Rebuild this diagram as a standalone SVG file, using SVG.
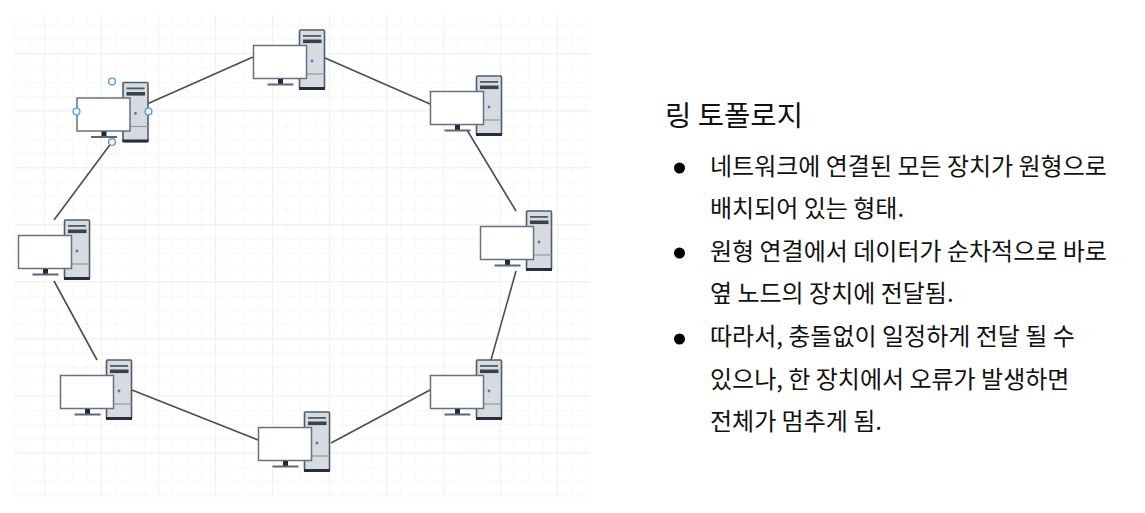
<svg xmlns="http://www.w3.org/2000/svg" width="1145" height="513" viewBox="0 0 1145 513">
<style>
text{font-family:"Noto Sans CJK KR","Noto Sans",sans-serif;fill:#111}
.b{font-size:24px}.t{font-size:28.6px}
.c line{stroke:#4d4d4d;stroke-width:1.6}
.h{fill:#fff;stroke:#4a9df0;stroke-width:1.4}
</style>
<defs>
<pattern id="minor" x="15.5" y="10.75" width="14.25" height="14.25" patternUnits="userSpaceOnUse"><path d="M0 0V14.25M0 0H14.25" fill="none" stroke="#f5f6f7" stroke-width="1.7"/></pattern>
<pattern id="major" x="44" y="53" width="57" height="57" patternUnits="userSpaceOnUse"><path d="M0 0V57M0 0H57" fill="none" stroke="#f0f1f3" stroke-width="2.4"/></pattern>
<g id="pc">
<rect x="46" y="-15.5" width="25" height="59" rx="1" fill="#d7dbe0" stroke="#4f5d6c" stroke-width="1.6"/>
<path d="M46 28.5H71" stroke="#8f99a4" stroke-width="1.2"/>
<rect x="45.5" y="41.5" width="26" height="3" fill="#232f3e"/>
<rect x="49.5" y="-10.5" width="18" height="1.8" fill="#4d5a69"/>
<rect x="49.5" y="-6" width="18.5" height="3.6" fill="#36434f"/>
<circle cx="58.5" cy="15.5" r="1.4" fill="#4a7bd0"/>
<rect x="0" y="0" width="53" height="33" fill="#fff" stroke="#65727f" stroke-width="1.5"/>
<rect x="24.5" y="33.5" width="5" height="5" fill="#1f2b38"/>
<rect x="14" y="38" width="26" height="2" fill="#5b6875"/>
</g>
</defs>
<g id="grid">
<rect x="15" y="15" width="575" height="482" fill="url(#minor)"/>
<rect x="15" y="15" width="575" height="482" fill="url(#major)"/>
</g>
<g id="connectors" class="c">
<line x1="147" y1="104" x2="253" y2="57"/>
<line x1="325" y1="58" x2="430" y2="104"/>
<line x1="467" y1="130" x2="516" y2="211"/>
<line x1="516" y1="271" x2="491" y2="360"/>
<line x1="430" y1="390" x2="331" y2="443"/>
<line x1="258" y1="440" x2="132" y2="390"/>
<line x1="97" y1="360" x2="54" y2="281"/>
<line x1="54" y1="220" x2="112" y2="142"/>
</g>
<g id="node1"><use href="#pc" x="253.5" y="45.5"/></g>
<g id="node2"><use href="#pc" x="430.5" y="91.5"/></g>
<g id="node3"><use href="#pc" x="480.5" y="226.5"/></g>
<g id="node4"><use href="#pc" x="430.5" y="375.5"/></g>
<g id="node5"><use href="#pc" x="258.5" y="427.5"/></g>
<g id="node6"><use href="#pc" x="60.5" y="375.5"/></g>
<g id="node7"><use href="#pc" x="18.5" y="235.5"/></g>
<g id="node8"><use href="#pc" x="77" y="98"/>
<circle class="h" cx="112" cy="81.5" r="3.4"/><circle class="h" cx="76.5" cy="111.5" r="3.4"/><circle class="h" cx="148.5" cy="111.5" r="3.4"/><circle class="h" cx="112" cy="142" r="3.4"/></g>
<g id="caption">
<text class="t" x="665" y="126">링 토폴로지</text>
<circle cx="679.5" cy="168" r="5.5" fill="#000"/>
<circle cx="679.5" cy="253" r="5.5" fill="#000"/>
<circle cx="679.5" cy="339" r="5.5" fill="#000"/>
<text class="b" x="710" y="175">네트워크에 연결된 모든 장치가 원형으로</text>
<text class="b" x="710" y="217">배치되어 있는 형태.</text>
<text class="b" x="710" y="260">원형 연결에서 데이터가 순차적으로 바로</text>
<text class="b" x="710" y="302">옆 노드의 장치에 전달됨.</text>
<text class="b" x="710" y="345">따라서, 충돌없이 일정하게 전달 될 수</text>
<text class="b" x="710" y="388">있으나, 한 장치에서 오류가 발생하면</text>
<text class="b" x="710" y="430">전체가 멈추게 됨.</text>
</g>
</svg>
